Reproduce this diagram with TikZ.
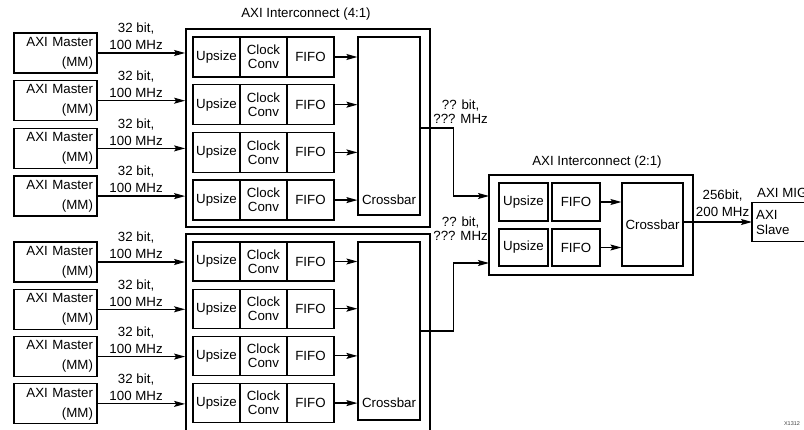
\documentclass[tikz,border=0pt]{standalone}
\usepackage{fontspec}
\setmainfont{Liberation Sans}
\usetikzlibrary{arrows.meta,calc}
\begin{document}
\begin{tikzpicture}[x=1pt,y=-1pt,
  every node/.style={font=\fontsize{13.3}{15}\selectfont, inner sep=0pt},
  blk/.style={draw, line width=1.2pt, inner sep=0pt, align=center},
  outer/.style={draw, line width=1.8pt},
  arr/.style={line width=1.2pt, -{Stealth[length=11pt,width=6pt,inset=2pt]}},
  lnk/.style={line width=1.2pt},
  lbl/.style={align=center, font=\fontsize{13.3}{17}\selectfont},
  lbltwo/.style={align=center, font=\fontsize{13.3}{14}\selectfont},
  master/.style={draw, line width=1.2pt, minimum width=83pt, minimum height=40pt, text width=75pt, inner xsep=4pt, align=right, font=\fontsize{13.3}{20}\selectfont},
  clk/.style={blk, font=\fontsize{13.3}{14}\selectfont},
]
\useasboundingbox (0,0) rectangle (804,430);

% outer interconnect boxes
\node[outer, minimum width=244pt, minimum height=198pt] (ic1) at (308,128) {};
\node[outer, minimum width=244pt, minimum height=204pt] (ic2) at (308,336) {};
\node[outer, minimum width=204pt, minimum height=100pt] (ic3) at (591,225) {};

\node (t1) at (306,14) {AXI Interconnect (4:1)};
\node (t3) at (597,162) {AXI Interconnect (2:1)};

% crossbars
\node[blk, minimum width=62pt, minimum height=178pt] (xb1) at (389,126) {};
\node (xb1t) at (389,200) {Crossbar};
\node[blk, minimum width=62pt, minimum height=178pt] (xb2) at (389,331) {};
\node (xb2t) at (389,403) {Crossbar};

% top group
\foreach \i/\ym/\yr in {1/53/57, 2/100.7/104.7, 3/148.4/152.4, 4/196.1/200.1} {
  \node[master] (m\i) at (55.5,\ym) {AXI Master\\(MM)};
  \node[blk, minimum width=47pt, minimum height=40pt] (u\i) at (216.5,\yr) {Upsize};
  \node[clk, minimum width=47pt, minimum height=40pt] (c\i) at (263.5,\yr) {Clock\\Conv};
  \node[blk, minimum width=47pt, minimum height=40pt] (f\i) at (310.5,\yr) {FIFO};
  \draw[arr] (m\i.east) -- (m\i.east -| ic1.west) node[lbl, pos=0.44, yshift=16.5pt] {32 bit,\\100 MHz};
  \draw[arr] (f\i.east) -- (f\i.east -| xb1.west);
}

% bottom group
\foreach \i/\ym/\yr in {5/262/261.5, 6/309.3/308.7, 7/356.6/355.9, 8/403.9/403.1} {
  \node[master] (m\i) at (55.5,\ym) {AXI Master\\(MM)};
  \node[blk, minimum width=47pt, minimum height=39pt] (u\i) at (216.5,\yr) {Upsize};
  \node[clk, minimum width=47pt, minimum height=39pt] (c\i) at (263.5,\yr) {Clock\\Conv};
  \node[blk, minimum width=47pt, minimum height=39pt] (f\i) at (310.5,\yr) {FIFO};
  \draw[arr] (m\i.east) -- (m\i.east -| ic2.west) node[lbl, pos=0.44, yshift=16.5pt] {32 bit,\\100 MHz};
  \draw[arr] (f\i.east) -- (f\i.east -| xb2.west);
}

% 2:1 interconnect contents
\node[blk, minimum width=49pt, minimum height=38pt] (u9) at (523.5,202) {Upsize};
\node[blk, minimum width=48pt, minimum height=38pt] (f9) at (576,202) {FIFO};
\node[blk, minimum width=49pt, minimum height=37pt] (u10) at (523.5,247.5) {Upsize};
\node[blk, minimum width=48pt, minimum height=37pt] (f10) at (576,247.5) {FIFO};
\node[blk, minimum width=61pt, minimum height=83pt] (xb3) at (652.5,224.5) {Crossbar};
\draw[arr] (f9.east) -- (f9.east -| xb3.west);
\draw[arr] (f10.east) -- (f10.east -| xb3.west);

% links from 4:1 crossbars to 2:1 interconnect
\coordinate (in1) at (489,196);
\coordinate (in2) at (489,263);
\draw[arr] ($(xb1.east)+(0,2)$) -- ++(33,0) node[lbltwo, xshift=7pt, yshift=16pt] {?? bit,\\??? MHz} |- (in1);
\draw[arr] (xb2.east) -- ++(33,0) |- node[lbltwo, pos=0.5, xshift=7pt, yshift=34pt] {?? bit,\\??? MHz} (in2);

% AXI slave
\node[minimum width=56pt, minimum height=38pt, text width=48pt, inner xsep=4pt, align=left, anchor=west] (slave) at (752,222) {AXI\\Slave};
\draw[lnk] (slave.north east) -- (slave.north west) -- (slave.south west) -- (slave.south east);
\node[anchor=west] (mig) at (757,193) {AXI MIG};
\draw[arr] (xb3.east |- slave.west) -- (slave.west) node[lbl, pos=0.57, yshift=18.5pt] {256bit,\\200 MHz};

\node[font=\fontsize{5.5}{6}\selectfont, text=black!75] (code) at (792,424) {X1312};
\end{tikzpicture}
\end{document}
